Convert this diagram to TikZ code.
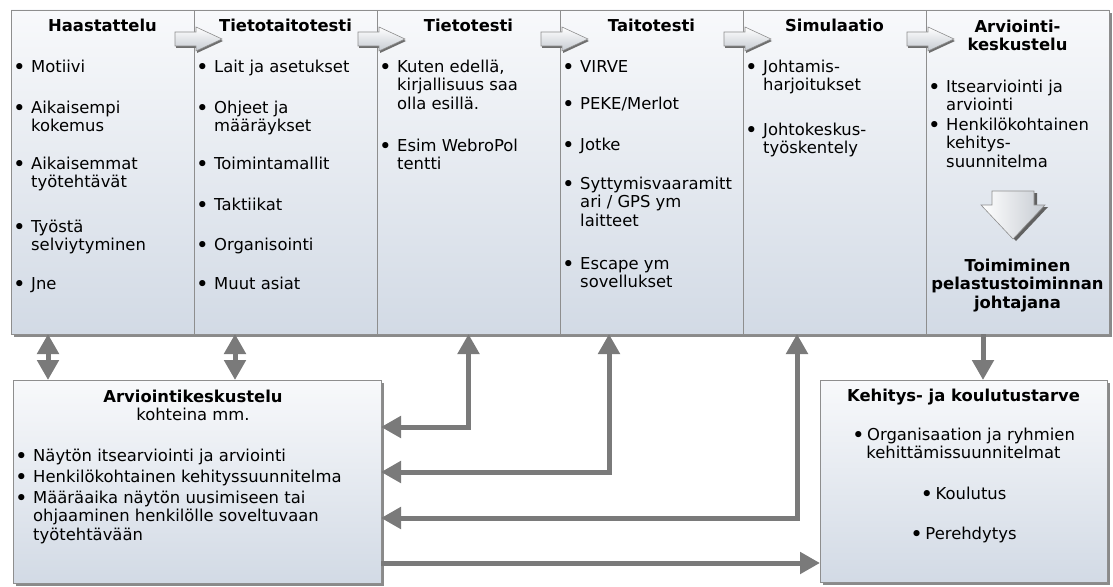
\documentclass[tikz,border=0pt]{standalone}
\usepackage{fontspec}
\setmainfont{DejaVu Sans}
\usetikzlibrary{arrows.meta,calc}

\definecolor{boxtop}{HTML}{F8F9FB}
\definecolor{boxbot}{HTML}{D2DAE5}
\definecolor{boxline}{HTML}{8E8E8E}
\definecolor{shadowgray}{HTML}{8A8A8A}
\definecolor{conncolor}{HTML}{7A7A7A}
\definecolor{chevlight}{HTML}{FFFFFF}
\definecolor{chevdark}{HTML}{C6CBD2}

\newcommand\bodyfont{\fontsize{16.4}{18.8}\selectfont}
% round bullet glyph
\newcommand\dotmark{\raisebox{-2.2pt}{\scalebox{1.3}{\textbullet}}}
% bullet item: bullet column and a top-aligned block of lines
\newcommand\bi[2][160pt]{\makebox[18pt][l]{\dotmark}\parbox[t]{#1}{\raggedright\strut #2}}
\newcommand\cb{\makebox[15pt][l]{\dotmark}}

\tikzset{
  panel/.style={draw=boxline, line width=0.8pt, top color=boxtop, bottom color=boxbot,
    inner sep=0pt, outer sep=0pt, anchor=north west,
    preaction={fill=shadowgray, transform canvas={xshift=3pt,yshift=-3pt}}},
  ttl/.style={anchor=north, inner sep=0pt, align=center, font=\bodyfont\bfseries},
  itm/.style={anchor=north west, inner sep=0pt, font=\bodyfont},
  ctr/.style={anchor=north, inner sep=0pt, align=center, font=\bodyfont},
  chev/.style={draw=boxline, line width=0.6pt, top color=chevlight, bottom color=chevdark,
    preaction={fill=shadowgray!80!black, transform canvas={xshift=1pt,yshift=-2pt}}},
  conn/.style={draw=conncolor, line width=5pt},
  tip/.tip={Triangle[width=21pt,length=20pt]},
  twoway/.style={conn, tip-tip},
  oneway/.style={conn, -tip},
}

\begin{document}
\begin{tikzpicture}[x=1pt,y=-1pt]
\useasboundingbox (0,0) rectangle (1113,586);

% stage panels
\node[panel, minimum width=183pt, minimum height=324pt] (b1) at (11,10) {};
\node[panel, minimum width=183pt, minimum height=324pt] (b2) at (194,10) {};
\node[panel, minimum width=183pt, minimum height=324pt] (b3) at (377,10) {};
\node[panel, minimum width=183pt, minimum height=324pt] (b4) at (560,10) {};
\node[panel, minimum width=183pt, minimum height=324pt] (b5) at (743,10) {};
\node[panel, minimum width=183pt, minimum height=324pt] (b6) at (926,10) {};

% lower panels
\node[panel, minimum width=368pt, minimum height=203pt] (ev) at (13,380) {};
\node[panel, minimum width=287pt, minimum height=202pt] (kt) at (820,380) {};

% flow chevrons between stages
\foreach \b in {194,377,560,743,926} {
  \path[chev] (\b-19,32) -- (\b+2,32) -- (\b+2,27) -- (\b+28,39) -- (\b+2,51)
     -- (\b+2,46) -- (\b-19,46) -- cycle;
}

% downward arrow in the last stage
\path[draw=boxline, line width=0.6pt, left color=chevlight, right color=chevdark,
      preaction={fill=shadowgray!70!black, transform canvas={xshift=3pt,yshift=-2pt}}]
  (992,191) -- (1034,191) -- (1034,205) -- (1045,205) -- (1013,239)
  -- (981,205) -- (992,205) -- cycle;

% titles
\node[ttl] (t1) at (102.5,17.7) {\strut Haastattelu};
\node[ttl] (t2) at (285.5,17.7) {\strut Tietotaitotesti};
\node[ttl] (t3) at (468.5,17.7) {\strut Tietotesti};
\node[ttl] (t4) at (651.5,17.7) {\strut Taitotesti};
\node[ttl] (t5) at (834.5,17.7) {\strut Simulaatio};
\node[ttl] (t6) at (1017.5,18.7) {\strut Arviointi-\\keskustelu};

% Haastattelu
\node[itm] (i11) at (13,58.7) {\bi{Motiivi}};
\node[itm] (i12) at (13,99.7) {\bi{Aikaisempi\\kokemus}};
\node[itm] (i13) at (13,155.7) {\bi{Aikaisemmat\\työtehtävät}};
\node[itm] (i14) at (13,218.7) {\bi{Työstä\\selviytyminen}};
\node[itm] (i15) at (13,275.7) {\bi{Jne}};

% Tietotaitotesti
\node[itm] (i21) at (196,58.7) {\bi{Lait ja asetukset}};
\node[itm] (i22) at (196,99.7) {\bi{Ohjeet ja\\määräykset}};
\node[itm] (i23) at (196,155.7) {\bi{Toimintamallit}};
\node[itm] (i24) at (196,196.7) {\bi{Taktiikat}};
\node[itm] (i25) at (196,236.7) {\bi{Organisointi}};
\node[itm] (i26) at (196,275.7) {\bi{Muut asiat}};

% Tietotesti
\node[itm] (i31) at (379,58.7) {\bi{Kuten edellä,\\kirjallisuus saa\\olla esillä.}};
\node[itm] (i32) at (379,137.7) {\bi{Esim WebroPol\\tentti}};

% Taitotesti
\node[itm] (i41) at (562,58.7) {\bi{VIRVE}};
\node[itm] (i42) at (562,95.7) {\bi{PEKE/Merlot}};
\node[itm] (i43) at (562,136.7) {\bi{Jotke}};
\node[itm] (i44) at (562,175.7) {\bi{Syttymisvaaramitt\\ari / GPS ym\\laitteet}};
\node[itm] (i45) at (562,255.7) {\bi{Escape ym\\sovellukset}};

% Simulaatio
\node[itm] (i51) at (745,58.7) {\bi{Johtamis-\\harjoitukset}};
\node[itm] (i52) at (745,121.7) {\bi{Johtokeskus-\\työskentely}};

% Arviointikeskustelu (stage)
\node[itm] (i61) at (928,78.7) {\bi{Itsearviointi ja\\arviointi}};
\node[itm] (i62) at (928,116.7) {\bi{Henkilökohtainen\\kehitys-\\suunnitelma}};
\node[ttl] (goal) at (1017.5,257.7) {\strut Toimiminen\\pelastustoiminnan\\johtajana};

% evaluation discussion panel
\node[ctr] (evt) at (193,388.7) {\strut\textbf{Arviointikeskustelu}\\kohteina mm.};
\node[itm] (e1) at (15,447.7) {\bi[330pt]{Näytön itsearviointi ja arviointi}};
\node[itm] (e2) at (15,468.7) {\bi[330pt]{Henkilökohtainen kehityssuunnitelma}};
\node[itm] (e3) at (15,489.7) {\bi[330pt]{Määräaika näytön uusimiseen tai\\ohjaaminen henkilölle soveltuvaan\\työtehtävään}};

% development and training needs panel
\node[ttl] (ktt) at (963.5,387.7) {\strut Kehitys- ja koulutustarve};
\node[ctr] (k1) at (963.5,426.7) {\strut\cb Organisaation ja ryhmien\\kehittämissuunnitelmat};
\node[ctr] (k2) at (963.5,485.7) {\strut\cb Koulutus};
\node[ctr] (k3) at (963.5,525.7) {\strut\cb Perehdytys};

% connector positions
\coordinate (x1) at (48,0);
\coordinate (x2) at (235,0);
\coordinate (x4) at (609,0);
\coordinate (x5) at (797,0);
\coordinate (x7) at (983,0);
\coordinate (y3) at (0,427);
\coordinate (y4) at (0,472);
\coordinate (y5) at (0,518);
\coordinate (y6) at (0,563);

% connectors
\draw[twoway] (b1.south -| x1) -- (ev.north -| x1);
\draw[twoway] (b2.south -| x2) -- (ev.north -| x2);
\draw[twoway] (ev.east |- y3) -| (b3.south);
\draw[twoway] (ev.east |- y4) -| (b4.south -| x4);
\draw[twoway] (ev.east |- y5) -| (b5.south -| x5);
\draw[oneway] (ev.east |- y6) -- (kt.west |- y6);
\draw[oneway] (b6.south -| x7) -- (kt.north -| x7);
\end{tikzpicture}
\end{document}
